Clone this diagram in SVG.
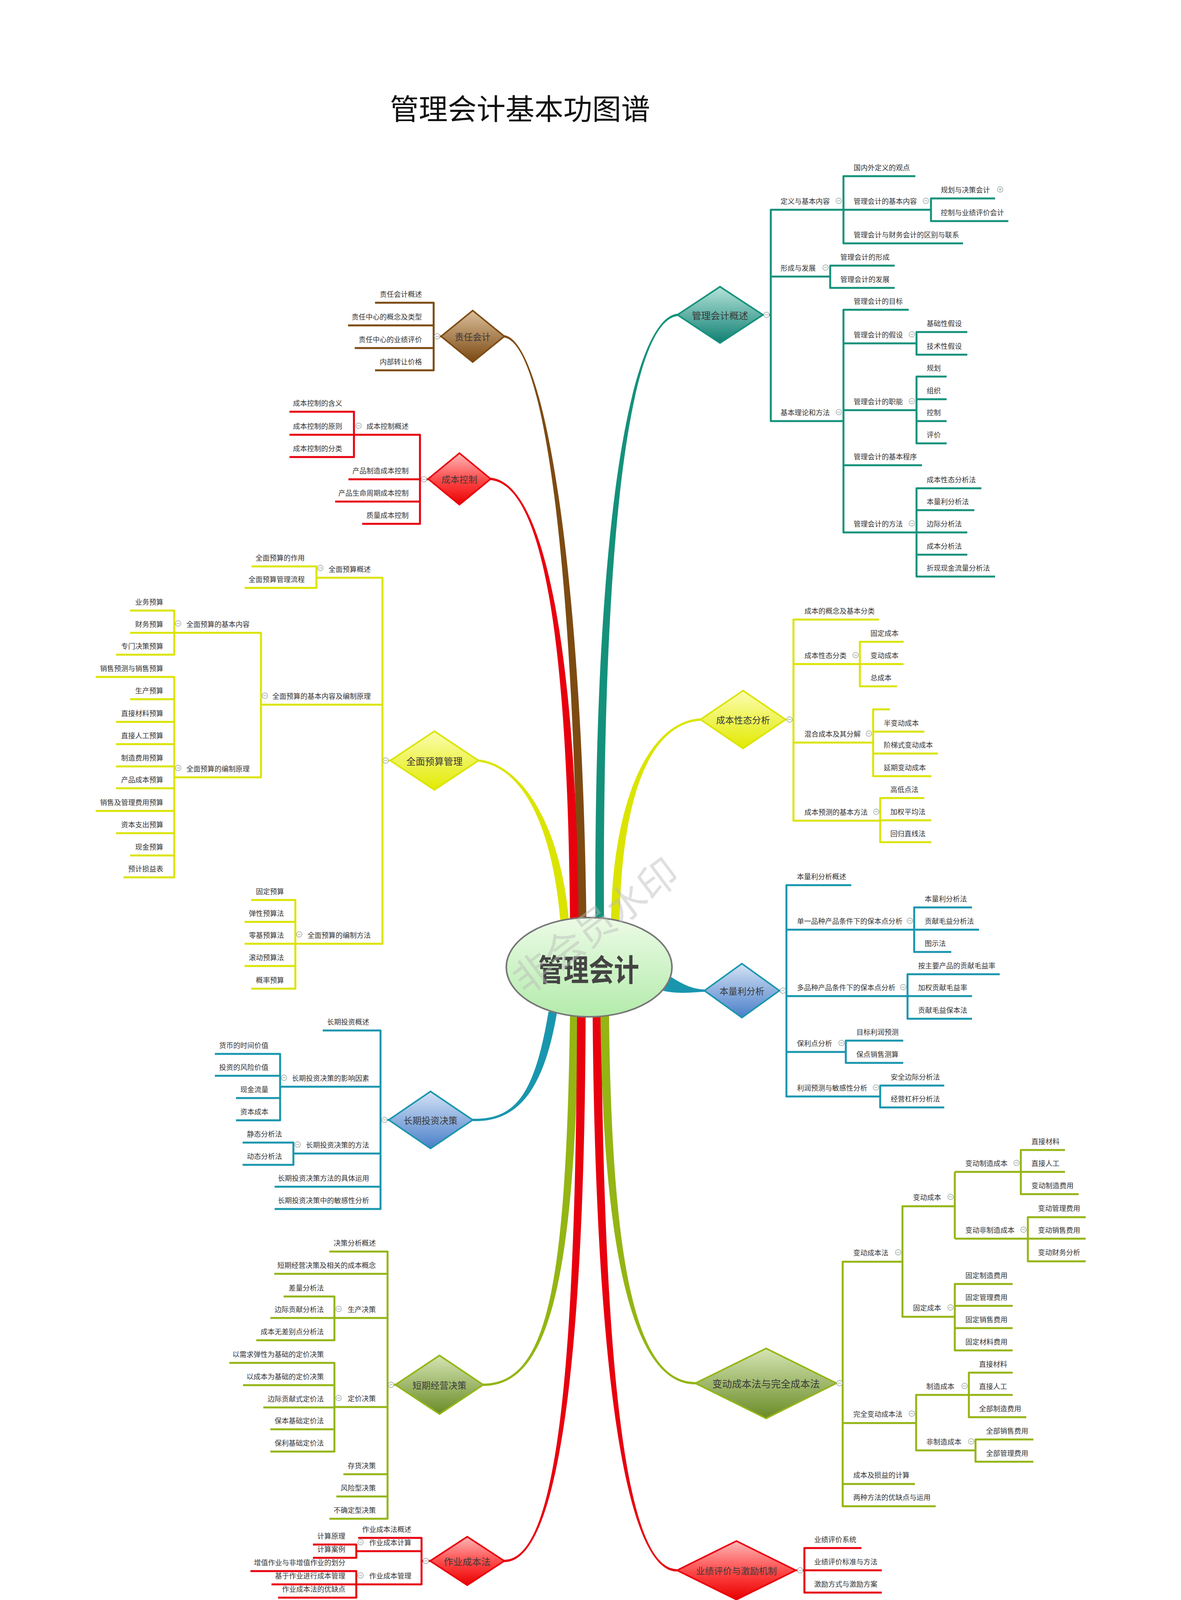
<svg xmlns="http://www.w3.org/2000/svg" xmlns:xlink="http://www.w3.org/1999/xlink" width="3023" height="4724" viewBox="0 0 3023 4724">
<style>
.t{font-family:"Noto Sans CJK SC","Noto Sans",sans-serif;font-size:18px;fill:#333;dominant-baseline:central}
.e{text-anchor:end}
.d{font-size:24px;text-anchor:middle;fill:#3a3a3a}
.ln{fill:none;stroke-width:5;stroke-linejoin:round;stroke-linecap:butt}
.cg{stroke:#14917b}.cb{stroke:#7d4b12}.cr{stroke:#e8000e}.cy{stroke:#dbe400}.ct{stroke:#1996ae}.co{stroke:#94b514}
.fg{fill:#14917b}.fb{fill:#7d4b12}.fr{fill:#e8000e}.fy{fill:#dbe400}.ft{fill:#1996ae}.fo{fill:#94b514}
.dm{stroke-width:4}
</style>
<defs>
<linearGradient id="gT" x1="0" y1="0" x2="0" y2="1"><stop offset="0" stop-color="#b5e3da"/><stop offset="1" stop-color="#0f7f72"/></linearGradient>
<linearGradient id="gBr" x1="0" y1="0" x2="0" y2="1"><stop offset="0" stop-color="#dcbf9a"/><stop offset="1" stop-color="#7a4812"/></linearGradient>
<linearGradient id="gR" x1="0" y1="0" x2="0" y2="1"><stop offset="0" stop-color="#fbb8b8"/><stop offset="0.55" stop-color="#f44"/><stop offset="1" stop-color="#e80000"/></linearGradient>
<linearGradient id="gY" x1="0" y1="0" x2="0" y2="1"><stop offset="0" stop-color="#fbfdb0"/><stop offset="1" stop-color="#e2ea00"/></linearGradient>
<linearGradient id="gB" x1="0" y1="0" x2="0" y2="1"><stop offset="0" stop-color="#d4e2f5"/><stop offset="1" stop-color="#4a7fc9"/></linearGradient>
<linearGradient id="gO" x1="0" y1="0" x2="0" y2="1"><stop offset="0" stop-color="#d5e5b3"/><stop offset="1" stop-color="#6a8b27"/></linearGradient>
<linearGradient id="gE" x1="0" y1="0" x2="0" y2="1"><stop offset="0" stop-color="#ecfbe6"/><stop offset="1" stop-color="#b3ebab"/></linearGradient>
<g id="mi"><circle r="7" fill="#fff" stroke="#9aa6a0" stroke-width="1.5"/><path d="M-4,0H4" stroke="#9aa6a0" stroke-width="1.5"/></g>
<g id="pl"><circle r="7" fill="#fff" stroke="#9aa6a0" stroke-width="1.5"/><path d="M-4,0H4M0,-4V4" stroke="#9aa6a0" stroke-width="1.5"/></g>
</defs>
<rect width="3023" height="4724" fill="#fff"/>
<g id="title"><text x="998" y="273" style="font-family:'Noto Sans CJK SC','Noto Sans',sans-serif;font-size:74px;fill:#111;dominant-baseline:central">管理会计基本功图谱</text></g>

<g id="connectors">
<path class="fb" d="M1479,2360 C1469,1500 1400,883 1291,864 L1291,858 C1400,877 1491,1500 1501,2360 Z"/>
<path class="fr" d="M1459,2360 C1454,1700 1400,1243 1256,1229 L1256,1223 C1400,1237 1476,1700 1481,2360 Z"/>
<path class="fy" d="M1434,2355 C1414,2120 1340,1963 1224,1950 L1224,1944 C1340,1957 1436,2120 1456,2355 Z"/>
<path class="fg" d="M1546,2355 C1541,1300 1620,823 1734,809 L1734,803 C1620,817 1519,1300 1524,2355 Z"/>
<path class="fy" d="M1586,2355 C1591,2050 1660,1853 1793,1845 L1793,1839 C1660,1847 1569,2050 1564,2355 Z"/>
<path class="ft" d="M1695,2486 C1745,2520 1770,2532 1803,2533 L1803,2539 C1770,2540 1740,2546 1695,2536 Z"/>
<path class="ft" d="M1404,2590 C1369,2800 1320,2867 1210,2864 L1210,2870 C1320,2873 1391,2800 1426,2590 Z"/>
<path class="fo" d="M1459,2600 C1449,3300 1400,3542 1237,3542 L1237,3548 C1400,3548 1471,3300 1481,2600 Z"/>
<path class="fr" d="M1477,2600 C1474,3550 1420,3993 1291,3993 L1291,3999 C1420,3999 1496,3550 1499,2600 Z"/>
<path class="fr" d="M1539,2600 C1546,3500 1600,4017 1733,4017 L1733,4023 C1600,4023 1524,3500 1517,2600 Z"/>
<path class="fo" d="M1559,2600 C1566,3250 1630,3538 1780,3538 L1780,3544 C1630,3544 1544,3250 1537,2600 Z"/>

<path class="ln cg" d="M1953,806H1973 M2383,537H1973V1078H2159 M1973,708H2125 M2343,451H2159V623H2465 M2547,508H2383V566H2581 M2290,680H2125V737H2290 M2326,793H2159V1363H2346 M2159,879H2346 M2476,850H2346V908H2476 M2159,1050H2346 M2423,964H2346V1135H2423 M2346,1022H2423 M2346,1078H2423 M2159,1191H2360 M2512,1250H2346V1476H2547 M2346,1306H2494 M2346,1363H2476 M2346,1420H2476"/>
<path class="ln cb" d="M1129,861H1110 M960,775H1110V948H960 M891,833H1110 M908,891H1110"/>
<path class="ln cr" d="M1096,1227H1075 M906,1113H1075V1341H927 M892,1227H1075 M858,1284H1075 M741,1054H906V1170H741 M741,1113H906"/>
<path class="ln cy" d="M999,1947H979 M810,1479H979V2416H626 M668,1804H979 M644,1450H810V1505H626 M333,1620H668V1990H446 M333,1563H446V1676H297 M245,1733H446V2246H316 M333,1790H446 M297,1848H446 M297,1905H446 M297,1962H446 M297,2018H446 M245,2076H446 M297,2133H446 M333,2190H446 M643,2304H756V2531H643 M626,2360H756 M626,2473H756"/>
<path class="ln cy" d="M2010,1842H2031 M2250,1586H2031V2101H2253 M2031,1700H2201 M2031,1901H2235 M2313,1643H2201V1757H2296 M2201,1700H2313 M2278,1816H2235V1987H2384 M2235,1873H2366 M2235,1929H2401 M2366,2043H2253V2156H2384 M2253,2100H2384"/>
<path class="ln ct" d="M1995,2536H2013 M2179,2266H2013V2807H2253 M2013,2380H2340 M2013,2550H2323 M2013,2693H2165 M2488,2323H2340V2437H2435 M2340,2380H2506 M2559,2494H2323V2608H2488 M2323,2550H2488 M2312,2664H2165V2721H2312 M2417,2779H2253V2835H2417"/>
<path class="ln ct" d="M995,2867H974 M826,2638H974V3095H703 M717,2782H974 M751,2953H974 M703,3038H974 M550,2698H717V2868H604 M550,2754H717 M604,2811H717 M621,2925H751V2982H621"/>
<path class="ln co" d="M1012,3545H992 M843,3204H992V3888H843 M702,3261H992 M856,3374H992 M856,3602H992 M879,3774H992 M861,3831H992 M726,3319H856V3431H656 M692,3374H856 M587,3489H856V3716H692 M622,3546H856 M674,3603H856 M692,3659H856"/>
<path class="ln co" d="M2141,3541H2157 M2310,3230H2157V3856H2395 M2157,3643H2345 M2157,3799H2342 M2444,3088H2310V3371H2444 M2444,3000V3171 M2444,3000H2726 M2726,2944H2613V3057H2761 M2444,3171H2779 M2779,3116H2631V3229H2779 M2592,3287H2444V3457H2592 M2444,3343H2592 M2444,3400H2592 M2480,3571H2345V3713H2497 M2592,3514H2480V3628H2627 M2480,3571H2592 M2645,3685H2497V3742H2645"/>
<path class="ln cr" d="M1101,3996H1079 M917,3937H1079V4056H695 M912,3971H1079 M801,3954H912V3988H801 M641,4022H912V4090H712"/>
<path class="ln cr" d="M2037,4020H2059 M2205,3963H2059V4077H2257 M2059,4020H2257"/>
</g>

<g id="root"><ellipse cx="1508" cy="2476" rx="212" ry="127" fill="url(#gE)" stroke="#777" stroke-width="4"/><text x="1507" y="2478" text-anchor="middle" textLength="258" lengthAdjust="spacingAndGlyphs" style="font-family:'Noto Sans CJK SC','Noto Sans',sans-serif;font-size:78px;font-weight:bold;fill:#444;dominant-baseline:central">管理会计</text></g>

<!-- Branch A: 管理会计概述 -->
<g id="A"><polygon class="dm" fill="url(#gT)" stroke="#14917b" points="1734,806 1843,734 1953,806 1843,878"/><text class="t d" x="1843" y="806">管理会计概述</text><use href="#mi" x="1962" y="806"/></g>
<g id="A1"><text class="t" x="1998" y="514">定义与基本内容</text><use href="#mi" x="2147" y="514"/></g>
<g id="A11"><text class="t" x="2185" y="428">国内外定义的观点</text></g>
<g id="A12"><text class="t" x="2185" y="514">管理会计的基本内容</text><use href="#mi" x="2370" y="514"/></g>
<g id="A121"><text class="t" x="2408" y="485">规划与决策会计</text><use href="#pl" x="2560" y="485"/></g>
<g id="A122"><text class="t" x="2408" y="543">控制与业绩评价会计</text></g>
<g id="A13"><text class="t" x="2185" y="600">管理会计与财务会计的区别与联系</text></g>
<g id="A2"><text class="t" x="1998" y="685">形成与发展</text><use href="#mi" x="2113" y="685"/></g>
<g id="A21"><text class="t" x="2151" y="657">管理会计的形成</text></g>
<g id="A22"><text class="t" x="2151" y="714">管理会计的发展</text></g>
<g id="A3"><text class="t" x="1998" y="1055">基本理论和方法</text><use href="#mi" x="2147" y="1055"/></g>
<g id="A31"><text class="t" x="2185" y="770">管理会计的目标</text></g>
<g id="A32"><text class="t" x="2185" y="856">管理会计的假设</text><use href="#mi" x="2334" y="856"/></g>
<g id="A321"><text class="t" x="2372" y="827">基础性假设</text></g>
<g id="A322"><text class="t" x="2372" y="885">技术性假设</text></g>
<g id="A33"><text class="t" x="2185" y="1027">管理会计的职能</text><use href="#mi" x="2334" y="1027"/></g>
<g id="A331"><text class="t" x="2372" y="941">规划</text></g>
<g id="A332"><text class="t" x="2372" y="999">组织</text></g>
<g id="A333"><text class="t" x="2372" y="1055">控制</text></g>
<g id="A334"><text class="t" x="2372" y="1112">评价</text></g>
<g id="A34"><text class="t" x="2185" y="1168">管理会计的基本程序</text></g>
<g id="A35"><text class="t" x="2185" y="1340">管理会计的方法</text><use href="#mi" x="2334" y="1340"/></g>
<g id="A351"><text class="t" x="2372" y="1227">成本性态分析法</text></g>
<g id="A352"><text class="t" x="2372" y="1283">本量利分析法</text></g>
<g id="A353"><text class="t" x="2372" y="1340">边际分析法</text></g>
<g id="A354"><text class="t" x="2372" y="1397">成本分析法</text></g>
<g id="A355"><text class="t" x="2372" y="1453">折现现金流量分析法</text></g>

<!-- Branch B: 责任会计 -->
<g id="B"><polygon class="dm" fill="url(#gBr)" stroke="#7d4b12" points="1129,861 1210,795 1291,861 1210,927"/><text class="t d" x="1210" y="861" style="font-size:23px">责任会计</text><use href="#mi" x="1119" y="861"/></g>
<g id="B1"><text class="t e" x="1080" y="752">责任会计概述</text></g>
<g id="B2"><text class="t e" x="1080" y="810">责任中心的概念及类型</text></g>
<g id="B3"><text class="t e" x="1080" y="868">责任中心的业绩评价</text></g>
<g id="B4"><text class="t e" x="1080" y="925">内部转让价格</text></g>

<!-- Branch C: 成本控制 -->
<g id="C"><polygon class="dm" fill="url(#gR)" stroke="#e8000e" points="1096,1226 1176,1160 1256,1226 1176,1292"/><text class="t d" x="1176" y="1226" style="font-size:23px">成本控制</text><use href="#mi" x="1085" y="1227"/></g>
<g id="C1"><text class="t e" x="1046" y="1090">成本控制概述</text><use href="#mi" x="918" y="1090"/></g>
<g id="C11"><text class="t e" x="876" y="1031">成本控制的含义</text></g>
<g id="C12"><text class="t e" x="876" y="1090">成本控制的原则</text></g>
<g id="C13"><text class="t e" x="876" y="1147">成本控制的分类</text></g>
<g id="C2"><text class="t e" x="1046" y="1204">产品制造成本控制</text></g>
<g id="C3"><text class="t e" x="1046" y="1261">产品生命周期成本控制</text></g>
<g id="C4"><text class="t e" x="1046" y="1318">质量成本控制</text></g>

<!-- Branch D: 全面预算管理 -->
<g id="D"><polygon class="dm" fill="url(#gY)" stroke="#dbe400" points="999,1947 1112,1872 1225,1947 1112,2022"/><text class="t d" x="1112" y="1947">全面预算管理</text><use href="#mi" x="987" y="1947"/></g>
<g id="D1"><text class="t e" x="949" y="1456">全面预算概述</text><use href="#mi" x="820" y="1454"/></g>
<g id="D11"><text class="t e" x="780" y="1427">全面预算的作用</text></g>
<g id="D12"><text class="t e" x="780" y="1482">全面预算管理流程</text></g>
<g id="D2"><text class="t e" x="949" y="1781">全面预算的基本内容及编制原理</text><use href="#mi" x="678" y="1781"/></g>
<g id="D21"><text class="t e" x="639" y="1597">全面预算的基本内容</text><use href="#mi" x="456" y="1596"/></g>
<g id="D211"><text class="t e" x="418" y="1540">业务预算</text></g>
<g id="D212"><text class="t e" x="418" y="1597">财务预算</text></g>
<g id="D213"><text class="t e" x="418" y="1653">专门决策预算</text></g>
<g id="D22"><text class="t e" x="639" y="1967">全面预算的编制原理</text><use href="#mi" x="456" y="1966"/></g>
<g id="D221"><text class="t e" x="418" y="1710">销售预测与销售预算</text></g>
<g id="D222"><text class="t e" x="418" y="1767">生产预算</text></g>
<g id="D223"><text class="t e" x="418" y="1825">直接材料预算</text></g>
<g id="D224"><text class="t e" x="418" y="1882">直接人工预算</text></g>
<g id="D225"><text class="t e" x="418" y="1939">制造费用预算</text></g>
<g id="D226"><text class="t e" x="418" y="1995">产品成本预算</text></g>
<g id="D227"><text class="t e" x="418" y="2053">销售及管理费用预算</text></g>
<g id="D228"><text class="t e" x="418" y="2110">资本支出预算</text></g>
<g id="D229"><text class="t e" x="418" y="2167">现金预算</text></g>
<g id="D2210"><text class="t e" x="418" y="2223">预计损益表</text></g>
<g id="D3"><text class="t e" x="949" y="2393">全面预算的编制方法</text><use href="#mi" x="766" y="2392"/></g>
<g id="D31"><text class="t e" x="727" y="2281">固定预算</text></g>
<g id="D32"><text class="t e" x="727" y="2337">弹性预算法</text></g>
<g id="D33"><text class="t e" x="727" y="2393">零基预算法</text></g>
<g id="D34"><text class="t e" x="727" y="2450">滚动预算法</text></g>
<g id="D35"><text class="t e" x="727" y="2508">概率预算</text></g>

<!-- Branch E: 成本性态分析 -->
<g id="E"><polygon class="dm" fill="url(#gY)" stroke="#dbe400" points="1793,1842 1902,1768 2011,1842 1902,1916"/><text class="t d" x="1902" y="1842" style="font-size:23px">成本性态分析</text><use href="#mi" x="2021" y="1842"/></g>
<g id="E1"><text class="t" x="2059" y="1563">成本的概念及基本分类</text></g>
<g id="E2"><text class="t" x="2059" y="1677">成本性态分类</text><use href="#mi" x="2190" y="1677"/></g>
<g id="E21"><text class="t" x="2228" y="1620">固定成本</text></g>
<g id="E22"><text class="t" x="2228" y="1677">变动成本</text></g>
<g id="E23"><text class="t" x="2228" y="1734">总成本</text></g>
<g id="E3"><text class="t" x="2059" y="1878">混合成本及其分解</text><use href="#mi" x="2224" y="1878"/></g>
<g id="E31"><text class="t" x="2262" y="1850">半变动成本</text></g>
<g id="E32"><text class="t" x="2262" y="1906">阶梯式变动成本</text></g>
<g id="E33"><text class="t" x="2262" y="1964">延期变动成本</text></g>
<g id="E4"><text class="t" x="2059" y="2078">成本预测的基本方法</text><use href="#mi" x="2243" y="2078"/></g>
<g id="E41"><text class="t" x="2279" y="2020">高低点法</text></g>
<g id="E42"><text class="t" x="2279" y="2077">加权平均法</text></g>
<g id="E43"><text class="t" x="2279" y="2133">回归直线法</text></g>

<!-- Branch F: 本量利分析 -->
<g id="F"><polygon class="dm" fill="url(#gB)" stroke="#1996ae" points="1803,2536 1899,2467 1995,2536 1899,2605"/><text class="t d" x="1899" y="2536" style="font-size:23px">本量利分析</text><use href="#mi" x="2004" y="2536"/></g>
<g id="F1"><text class="t" x="2040" y="2243">本量利分析概述</text></g>
<g id="F2"><text class="t" x="2040" y="2357">单一品种产品条件下的保本点分析</text><use href="#mi" x="2329" y="2357"/></g>
<g id="F21"><text class="t" x="2367" y="2300">本量利分析法</text></g>
<g id="F22"><text class="t" x="2367" y="2357">贡献毛益分析法</text></g>
<g id="F23"><text class="t" x="2367" y="2414">图示法</text></g>
<g id="F3"><text class="t" x="2040" y="2527">多品种产品条件下的保本点分析</text><use href="#mi" x="2312" y="2527"/></g>
<g id="F31"><text class="t" x="2350" y="2471">按主要产品的贡献毛益率</text></g>
<g id="F32"><text class="t" x="2350" y="2527">加权贡献毛益率</text></g>
<g id="F33"><text class="t" x="2350" y="2585">贡献毛益保本法</text></g>
<g id="F4"><text class="t" x="2040" y="2670">保利点分析</text><use href="#mi" x="2154" y="2670"/></g>
<g id="F41"><text class="t" x="2192" y="2641">目标利润预测</text></g>
<g id="F42"><text class="t" x="2192" y="2698">保点销售测算</text></g>
<g id="F5"><text class="t" x="2040" y="2784">利润预测与敏感性分析</text><use href="#mi" x="2242" y="2784"/></g>
<g id="F51"><text class="t" x="2280" y="2756">安全边际分析法</text></g>
<g id="F52"><text class="t" x="2280" y="2812">经营杠杆分析法</text></g>

<!-- Branch G: 长期投资决策 -->
<g id="G"><polygon class="dm" fill="url(#gB)" stroke="#1996ae" points="995,2867 1102,2794 1210,2867 1102,2940"/><text class="t d" x="1102" y="2867" style="font-size:23px">长期投资决策</text><use href="#mi" x="984" y="2867"/></g>
<g id="G1"><text class="t e" x="945" y="2615">长期投资概述</text></g>
<g id="G2"><text class="t e" x="945" y="2759">长期投资决策的影响因素</text><use href="#mi" x="727" y="2759"/></g>
<g id="G21"><text class="t e" x="687" y="2675">货币的时间价值</text></g>
<g id="G22"><text class="t e" x="687" y="2731">投资的风险价值</text></g>
<g id="G23"><text class="t e" x="687" y="2788">现金流量</text></g>
<g id="G24"><text class="t e" x="687" y="2845">资本成本</text></g>
<g id="G3"><text class="t e" x="945" y="2930">长期投资决策的方法</text><use href="#mi" x="762" y="2930"/></g>
<g id="G31"><text class="t e" x="722" y="2902">静态分析法</text></g>
<g id="G32"><text class="t e" x="722" y="2959">动态分析法</text></g>
<g id="G4"><text class="t e" x="945" y="3015">长期投资决策方法的具体运用</text></g>
<g id="G5"><text class="t e" x="945" y="3072">长期投资决策中的敏感性分析</text></g>

<!-- Branch H: 短期经营决策 -->
<g id="H"><polygon class="dm" fill="url(#gO)" stroke="#94b514" points="1012,3545 1125,3470 1237,3545 1125,3620"/><text class="t d" x="1125" y="3545" style="font-size:23px">短期经营决策</text><use href="#mi" x="1001" y="3545"/></g>
<g id="H1"><text class="t e" x="962" y="3181">决策分析概述</text></g>
<g id="H2"><text class="t e" x="962" y="3238">短期经营决策及相关的成本概念</text></g>
<g id="H3"><text class="t e" x="962" y="3351">生产决策</text><use href="#mi" x="867" y="3351"/></g>
<g id="H31"><text class="t e" x="829" y="3296">差量分析法</text></g>
<g id="H32"><text class="t e" x="829" y="3351">边际贡献分析法</text></g>
<g id="H33"><text class="t e" x="829" y="3408">成本无差别点分析法</text></g>
<g id="H4"><text class="t e" x="962" y="3579">定价决策</text><use href="#mi" x="867" y="3579"/></g>
<g id="H41"><text class="t e" x="829" y="3466">以需求弹性为基础的定价决策</text></g>
<g id="H42"><text class="t e" x="829" y="3523">以成本为基础的定价决策</text></g>
<g id="H43"><text class="t e" x="829" y="3580">边际贡献式定价法</text></g>
<g id="H44"><text class="t e" x="829" y="3636">保本基础定价法</text></g>
<g id="H45"><text class="t e" x="829" y="3693">保利基础定价法</text></g>
<g id="H5"><text class="t e" x="962" y="3751">存货决策</text></g>
<g id="H6"><text class="t e" x="962" y="3808">风险型决策</text></g>
<g id="H7"><text class="t e" x="962" y="3865">不确定型决策</text></g>

<!-- Branch I: 变动成本法与完全成本法 -->
<g id="I"><polygon class="dm" fill="url(#gO)" stroke="#94b514" points="1780,3541 1961,3452 2141,3541 1961,3631"/><text class="t d" x="1961" y="3541" style="font-size:25px">变动成本法与完全成本法</text><use href="#mi" x="2149" y="3541"/></g>
<g id="I1"><text class="t" x="2184" y="3206">变动成本法</text><use href="#mi" x="2299" y="3206"/></g>
<g id="I11"><text class="t" x="2337" y="3064">变动成本</text><use href="#mi" x="2433" y="3064"/></g>
<g id="I111"><text class="t" x="2471" y="2977">变动制造成本</text><use href="#mi" x="2602" y="2977"/></g>
<g id="I1111"><text class="t" x="2640" y="2921">直接材料</text></g>
<g id="I1112"><text class="t" x="2640" y="2977">直接人工</text></g>
<g id="I1113"><text class="t" x="2640" y="3034">变动制造费用</text></g>
<g id="I112"><text class="t" x="2471" y="3148">变动非制造成本</text><use href="#mi" x="2620" y="3148"/></g>
<g id="I1121"><text class="t" x="2657" y="3092">变动管理费用</text></g>
<g id="I1122"><text class="t" x="2657" y="3148">变动销售费用</text></g>
<g id="I1123"><text class="t" x="2657" y="3205">变动财务分析</text></g>
<g id="I12"><text class="t" x="2337" y="3347">固定成本</text><use href="#mi" x="2433" y="3347"/></g>
<g id="I121"><text class="t" x="2471" y="3264">固定制造费用</text></g>
<g id="I122"><text class="t" x="2471" y="3320">固定管理费用</text></g>
<g id="I123"><text class="t" x="2471" y="3377">固定销售费用</text></g>
<g id="I124"><text class="t" x="2471" y="3434">固定材料费用</text></g>
<g id="I2"><text class="t" x="2184" y="3619">完全变动成本法</text><use href="#mi" x="2334" y="3619"/></g>
<g id="I21"><text class="t" x="2371" y="3548">制造成本</text><use href="#mi" x="2469" y="3548"/></g>
<g id="I211"><text class="t" x="2506" y="3491">直接材料</text></g>
<g id="I212"><text class="t" x="2506" y="3548">直接人工</text></g>
<g id="I213"><text class="t" x="2506" y="3605">全部制造费用</text></g>
<g id="I22"><text class="t" x="2371" y="3690">非制造成本</text><use href="#mi" x="2486" y="3690"/></g>
<g id="I221"><text class="t" x="2524" y="3662">全部销售费用</text></g>
<g id="I222"><text class="t" x="2524" y="3719">全部管理费用</text></g>
<g id="I3"><text class="t" x="2184" y="3775">成本及损益的计算</text></g>
<g id="I4"><text class="t" x="2184" y="3832">两种方法的优缺点与运用</text></g>

<!-- Branch J: 作业成本法 -->
<g id="J"><polygon class="dm" fill="url(#gR)" stroke="#e8000e" points="1101,3996 1196,3934 1291,3996 1196,4058"/><text class="t d" x="1196" y="3996">作业成本法</text><use href="#mi" x="1090" y="3996"/></g>
<g id="J1"><text class="t e" x="1053" y="3914">作业成本法概述</text></g>
<g id="J2"><text class="t e" x="1053" y="3948">作业成本计算</text><use href="#mi" x="923" y="3948"/></g>
<g id="J21"><text class="t e" x="884" y="3931">计算原理</text></g>
<g id="J22"><text class="t e" x="884" y="3965">计算案例</text></g>
<g id="J3"><text class="t e" x="1053" y="4033">作业成本管理</text><use href="#mi" x="923" y="4033"/></g>
<g id="J31"><text class="t e" x="884" y="3999">增值作业与非增值作业的划分</text></g>
<g id="J32"><text class="t e" x="884" y="4033">基于作业进行成本管理</text></g>
<g id="J33"><text class="t e" x="884" y="4067">作业成本法的优缺点</text></g>

<!-- Branch K: 业绩评价与激励机制 -->
<g id="K"><polygon class="dm" fill="url(#gR)" stroke="#e8000e" points="1733,4020 1885,3945 2037,4020 1885,4095"/><text class="t d" x="1885" y="4020" style="font-size:23px">业绩评价与激励机制</text><use href="#mi" x="2048" y="4020"/></g>
<g id="K1"><text class="t" x="2084" y="3940">业绩评价系统</text></g>
<g id="K2"><text class="t" x="2084" y="3997">业绩评价标准与方法</text></g>
<g id="K3"><text class="t" x="2084" y="4054">激励方式与激励方案</text></g>

<g id="watermark"><text x="1520" y="2365" transform="rotate(-37 1520 2365)" text-anchor="middle" style="font-family:'Noto Sans CJK SC','Noto Sans',sans-serif;font-size:100px;fill:#b8b8b8;fill-opacity:0.45;dominant-baseline:central">非会员水印</text></g>
</svg>
